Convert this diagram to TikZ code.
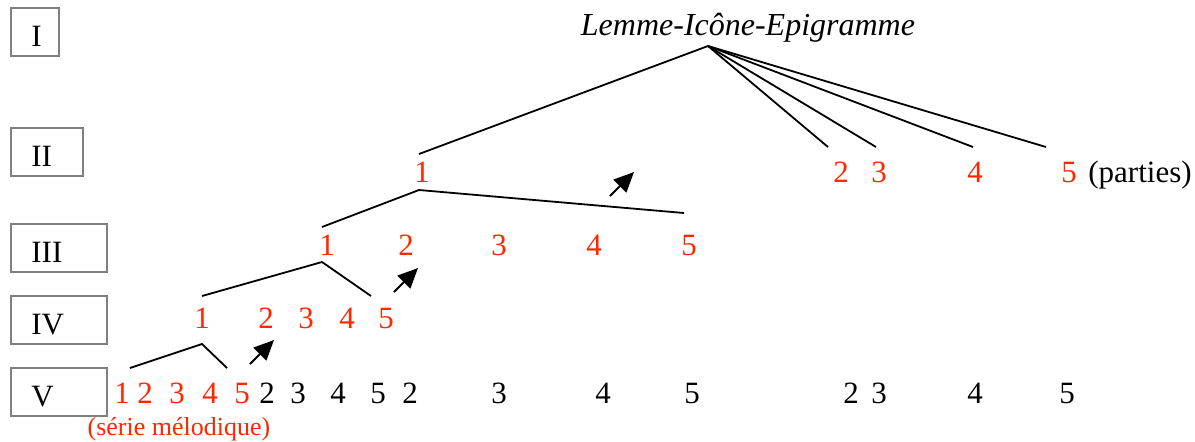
\documentclass[tikz,border=0pt]{standalone}
\usepackage{fontspec}
\setmainfont{Liberation Serif}
\usetikzlibrary{arrows.meta}

\definecolor{partred}{RGB}{255,38,0}
\definecolor{boxgray}{RGB}{128,128,128}
\newcommand{\treefont}{\fontsize{15.5pt}{18pt}\selectfont}
\newcommand{\notefont}{\fontsize{13pt}{15pt}\selectfont}
\newcommand{\titlefont}{\fontsize{16pt}{19pt}\selectfont\itshape}

\tikzset{
  lvlbox/.style={draw=boxgray, line width=1pt, anchor=west, minimum height=24pt, inner sep=0pt},
  lvltext/.style={anchor=base west, inner sep=0pt, font=\treefont},
  num/.style={anchor=base, inner sep=0pt, font=\treefont},
  rednum/.style={num, text=partred},
  branch/.style={line width=0.9pt},
  pointer/.style={line width=0.9pt, -{Triangle[length=10pt, width=9pt]}},
}

\begin{document}
\begin{tikzpicture}[x=0.5pt, y=-0.5pt]
  \useasboundingbox (0,0) rectangle (1195,441);

  % Draw the level boxes
  \foreach \lab/\cy/\w in {I/32/24pt, II/152/36pt, III/248/48pt, IV/320/48pt, V/392/48pt}{
    \node[lvlbox, minimum width=\w] (box\lab) at (10,\cy) {};
    \node[lvltext] (lab\lab) at (31,\cy+14) {\lab};
  }

  % Title of the whole
  \node[num, font=\titlefont] (title) at (748,35) {Lemme-Icône-Epigramme};

  % Parts on each level
  \foreach \x [count=\i] in {422,841,879,975,1069}
    \node[rednum] (two\i) at (\x,182) {\i};
  \node[num, anchor=base west] (parties) at (1088,182) {(parties)};
  \foreach \x [count=\i] in {327,406,499,594,689}
    \node[rednum] (three\i) at (\x,255) {\i};
  \foreach \x [count=\i] in {202,266,306,347,386}
    \node[rednum] (four\i) at (\x,328) {\i};
  \foreach \x [count=\i] in {122,145,177,210,242}
    \node[rednum] (five\i) at (\x,403) {\i};
  \foreach \x/\d [count=\i] in {267/2,298/3,338/4,378/5,410/2,499/3,603/4,692/5,851/2,879/3,975/4,1067/5}
    \node[num] (rest\i) at (\x,403) {\d};
  \node[rednum, font=\notefont] (serie) at (179,435) {(série mélodique)};

  % Branch points
  \coordinate (topI) at (708,46);
  \coordinate (endI1) at (419,154);
  \coordinate (endI2) at (828,147);
  \coordinate (endI3) at (876,147);
  \coordinate (endI4) at (973,147);
  \coordinate (endI5) at (1046,147);
  \coordinate (topII) at (419,190);
  \coordinate (leftII) at (322,227);
  \coordinate (rightII) at (684,213);
  \coordinate (topIII) at (322,262);
  \coordinate (leftIII) at (202,296);
  \coordinate (rightIII) at (371,296);
  \coordinate (topIV) at (202,344);
  \coordinate (leftIV) at (130,368);
  \coordinate (rightIV) at (227,368);

  % Draw the branches
  \foreach \i in {1,...,5}
    \draw[branch] (topI) -- (endI\i);
  \draw[branch] (leftII) -- (topII) -- (rightII);
  \draw[branch] (leftIII) -- (topIII) -- (rightIII);
  \draw[branch] (leftIV) -- (topIV) -- (rightIV);

  % Arrows to the next part
  \coordinate (fromII) at (610,196);
  \coordinate (toII) at (634,172);
  \coordinate (fromIII) at (394,292);
  \coordinate (toIII) at (418,268);
  \coordinate (fromIV) at (250,364);
  \coordinate (toIV) at (274,340);
  \draw[pointer] (fromII) -- (toII);
  \draw[pointer] (fromIII) -- (toIII);
  \draw[pointer] (fromIV) -- (toIV);
\end{tikzpicture}
\end{document}
